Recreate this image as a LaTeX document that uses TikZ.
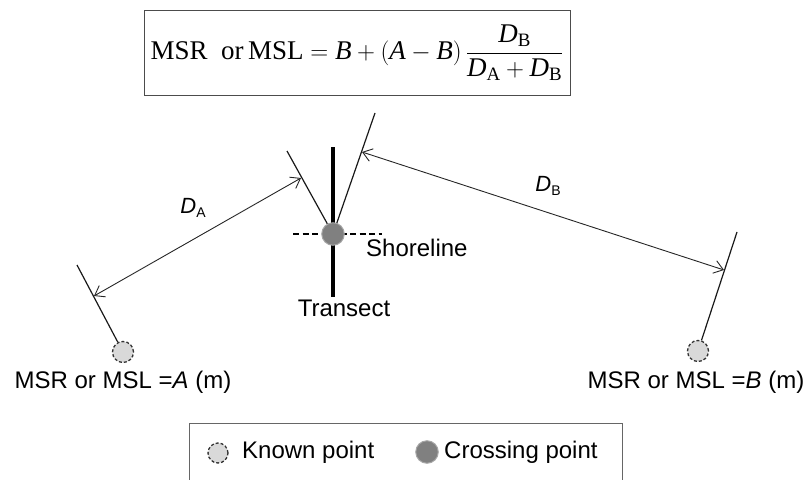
\documentclass[tikz,border=0pt]{standalone}
\usepackage{fontspec}
\setmainfont{Liberation Serif}
\newfontfamily\arial{Liberation Sans}
\usetikzlibrary{arrows.meta}
\begin{document}
\begin{tikzpicture}[x=1pt,y=-1pt,
  known/.style={circle,minimum size=21,inner sep=0,fill=black!15,draw=black!80,dashed,dash pattern=on 3pt off 2pt,line width=1.3},
  crossp/.style={circle,minimum size=22.5,inner sep=0,fill=black!50,draw=black!35,line width=1},
  tickln/.style={line width=1.2,black!90},
  dim/.style={line width=0.9,black!85,{Straight Barb[length=9,width=13]}-{Straight Barb[length=9,width=13]}},
  lbl/.style={font=\arial\fontsize{24}{26}\selectfont,inner sep=0},
  frm/.style={draw=black!70,line width=1,minimum width=426,minimum height=85,inner sep=0,font=\fontsize{27}{30}\selectfont}
]
\useasboundingbox (0,0) rectangle (808,479);
% formula
\node[frm] (F) at (357,52.5) {MSR\ \ or\,MSL $=\textit{B}+(\textit{A}-\textit{B})\,\displaystyle\frac{\textit{D}_{\mathrm{B}}}{\textit{D}_{\mathrm{A}}+\textit{D}_{\mathrm{B}}}$};
% transect and shoreline
\coordinate (Ttop) at (333,147);
\coordinate (Tbot) at (333,297);
\coordinate (Sl) at (293,234);
\coordinate (Sr) at (382,234);
\draw[line width=4] (Ttop) -- (Tbot);
\draw[line width=1.6,dash pattern=on 6pt off 3.5pt] (Sl) -- (Sr);
\node[crossp] (C) at (333,234) {};
% known points
\node[known] (A) at (123,352) {};
\node[known] (B) at (698,351) {};
% tick lines
\coordinate (Atop) at (77,265);
\coordinate (Btop) at (737,232);
\coordinate (Vl) at (287,151);
\coordinate (Vr) at (375,113);
\draw[tickln] (Atop) -- (A);
\draw[tickln] (Btop) -- (B);
\draw[tickln] (Vl) -- (C);
\draw[tickln] (Vr) -- (C);
% dimension arrows
\coordinate (aL) at (94,296);
\coordinate (aR) at (301,178);
\coordinate (bL) at (362,152);
\coordinate (bR) at (724,270);
\draw[dim] (aL) -- (aR);
\draw[dim] (bL) -- (bR);
% labels
\node[inner sep=0,font=\arial] (DA) at (193,208) {\fontsize{22}{24}\selectfont\textit{D}\raisebox{-4.5pt}{\fontsize{14}{16}\selectfont A}};
\node[inner sep=0,font=\arial] (DB) at (548,186) {\fontsize{22}{24}\selectfont\textit{D}\raisebox{-4.5pt}{\fontsize{14}{16}\selectfont B}};
\node[lbl,anchor=west] (SL) at (366,248) {Shoreline};
\node[lbl] (TR) at (344,308) {Transect};
\node[lbl] (LA) at (123,382) {MSR or MSL =\textit{A} (m)};
\node[lbl] (LB) at (696,382) {MSR or MSL =\textit{B} (m)};
% legend
\coordinate (G1) at (189,484);
\coordinate (G2) at (189,423);
\coordinate (G3) at (622,423);
\coordinate (G4) at (622,484);
\draw[black!60,line width=1] (G1) -- (G2) -- (G3) -- (G4);
\node[known,minimum size=20] (K) at (218,453) {};
\node[lbl,anchor=west] (KT) at (242,452) {Known point};
\node[crossp] (CP) at (427,452) {};
\node[lbl,anchor=west] (CT) at (444,452) {Crossing point};
\end{tikzpicture}
\end{document}
